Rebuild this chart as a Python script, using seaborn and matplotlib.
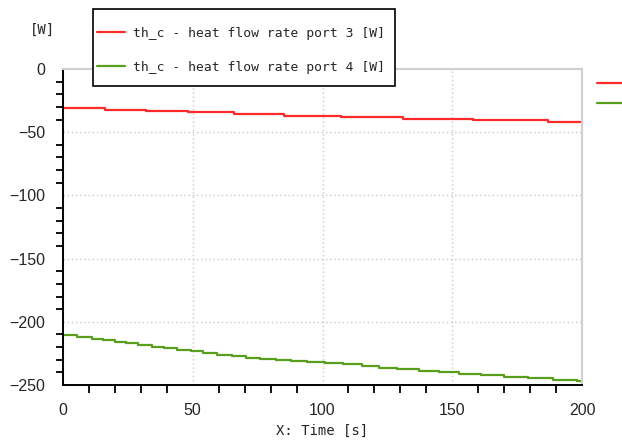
import numpy as np
import pandas as pd
import matplotlib
matplotlib.use("Agg")
import matplotlib.pyplot as plt
import seaborn as sns
from matplotlib.ticker import MultipleLocator
from matplotlib.lines import Line2D
from matplotlib.path import Path

# ---- data ----
red_t = [0, 16, 32, 48, 66, 85, 107, 131, 158, 187, 200]
red_v = [-31.0, -32.1, -33.2, -34.3, -35.7, -37.0, -38.0, -39.3, -40.6, -41.9, -41.9]

green_t = [0, 5.5, 11, 15.3, 20, 24.2, 29, 34.2, 38.9, 44, 49.3, 54.1, 59.2, 65, 70.4,
           75.9, 82.1, 87.7, 94, 101, 107.8, 115.1, 121.9, 128.8, 137.2, 144.9, 152.7,
           161.1, 170, 179, 189, 198, 200]
green_v = [-210.7, -212.0, -213.3, -214.4, -215.7, -217.0, -218.4, -219.7, -221.0, -222.3,
           -223.4, -224.7, -226.0, -227.3, -228.4, -229.4, -230.3, -231.1, -231.8, -232.3,
           -233.6, -235.0, -236.3, -237.3, -238.7, -240.0, -241.3, -242.4, -243.7, -244.7,
           -245.8, -247.0, -248.0]

series_names = ["th_c - heat flow rate port 3 [W]", "th_c - heat flow rate port 4 [W]"]
colors = ["#ff2b2b", "#5a9e1e"]
x_label = "X: Time [s]"
y_unit = "[W]"

df = pd.concat([
    pd.DataFrame({"t": red_t, "v": red_v, "s": series_names[0]}),
    pd.DataFrame({"t": green_t, "v": green_v, "s": series_names[1]}),
])

sns.set_style("white")
plt.rcParams["font.family"] = ["Liberation Sans", "DejaVu Sans"]
mono = ["DejaVu Sans Mono", "Liberation Mono"]

fig = plt.figure(figsize=(6.22, 4.43), dpi=100)
ax = fig.add_axes([63/622, 1-385/443, (582-63)/622, (385-69)/443])

sns.lineplot(data=df, x="t", y="v", hue="s", palette=colors, drawstyle="steps-post",
             linewidth=1.6, ax=ax, legend=False, estimator=None, sort=False)

ax.set_xlim(0, 200)
ax.set_ylim(-250, 0)
ax.xaxis.set_major_locator(MultipleLocator(50))
ax.xaxis.set_minor_locator(MultipleLocator(10))
ax.yaxis.set_major_locator(MultipleLocator(50))
ax.yaxis.set_minor_locator(MultipleLocator(10))
ax.grid(True, which="major", color="#c8c8c8", linestyle=(0, (1, 2)), linewidth=1)
ax.tick_params(axis="y", which="major", direction="out", length=11, width=1.3, color="black",
               labelsize=11.5, pad=2)
ax.tick_params(axis="y", which="minor", direction="out", length=5, width=1.3, color="black", left=True)
ax.tick_params(axis="x", which="major", direction="out", length=6, width=1.3, color="black",
               labelsize=11.5, pad=7)
ax.tick_params(axis="x", which="minor", direction="out", length=6, width=1.3, color="black", bottom=True)
for s in ["left", "bottom"]:
    ax.spines[s].set_color("black")
    ax.spines[s].set_linewidth(1.4)
for s in ["top", "right"]:
    ax.spines[s].set_color("#d0d0d0")
    ax.spines[s].set_linewidth(1.5)

ax.set_xlabel(x_label, fontsize=10, family=mono, labelpad=4)
ax.set_ylabel("")
fig.text(42/622, 1-30/443, y_unit, fontsize=10, family=mono, ha="center", va="center")


class EdgePadBox:
    """Square box style with separate left / right / top / bottom padding (in font units)."""
    def __init__(self, left, right, top, bottom):
        self.l, self.r, self.t, self.b = left, right, top, bottom

    def __call__(self, x0, y0, width, height, mutation_size):
        m = mutation_size
        x1, y1 = x0 + width + self.r * m, y0 + height + self.t * m
        x0, y0 = x0 - self.l * m, y0 - self.b * m
        return Path([(x0, y0), (x1, y0), (x1, y1), (x0, y1), (x0, y0)], closed=True)


handles = [Line2D([], [], color=c, linewidth=1.6) for c in colors]
leg = fig.legend(handles, series_names, loc="upper left", bbox_to_anchor=(93/622, 1-23/443),
                 bbox_transform=fig.transFigure, borderaxespad=0, fancybox=False,
                 edgecolor="black", framealpha=1, handlelength=2.15, handletextpad=0.6,
                 labelspacing=1.6, borderpad=0.3,
                 prop={"family": mono, "size": 9.4})
leg.get_frame().set_boxstyle(EdgePadBox(0.0, 0.45, 1.07, 0.61))
leg.get_frame().set_linewidth(1.2)

leg2 = fig.legend(handles, [" ", " "], loc="upper left", bbox_to_anchor=(592/622, 1-72/443),
                  bbox_transform=fig.transFigure, borderaxespad=0, frameon=False,
                  handlelength=2.2, handletextpad=0.6, labelspacing=0.55,
                  prop={"family": mono, "size": 9.4})

fig.savefig("out.png", dpi=100)
